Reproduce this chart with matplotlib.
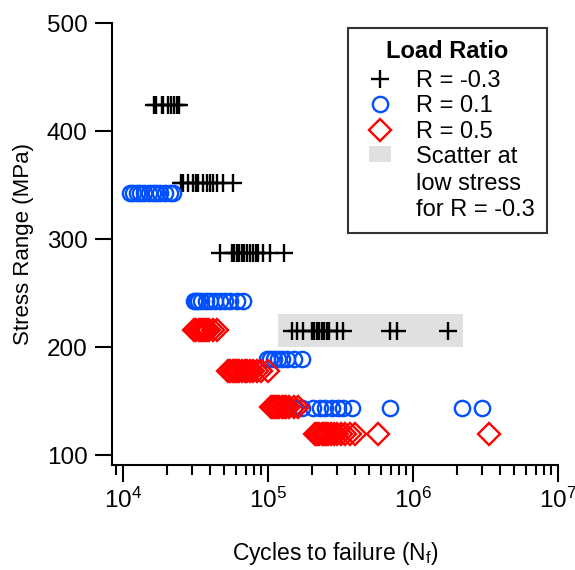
import matplotlib
matplotlib.use("Agg")
import matplotlib.pyplot as plt
from matplotlib.lines import Line2D

plt.rcParams['font.family'] = ['Liberation Sans', 'DejaVu Sans']
plt.rcParams['mathtext.fontset'] = 'custom'
plt.rcParams['mathtext.rm'] = 'Liberation Sans'
plt.rcParams['mathtext.it'] = 'Liberation Sans:italic'

# R = -0.3 : cycles to failure at each stress range (MPa)
rm03_s424 = [16400, 16800, 18500, 19000, 20500, 21300, 22500, 23400, 24400]
rm03_s352 = [25000, 26100, 28200, 30200, 31800, 33000, 35500, 37800, 39800,
             42000, 44300, 49200, 57100]
rm03_s287 = [46700, 56200, 58300, 60900, 63100, 65900, 68300, 71900, 75100,
             79200, 82600, 85700, 92800, 103000, 129000]
rm03_s215 = [145500, 157600, 175200, 200000, 207400, 216500, 224700, 234700,
             243000, 254000, 264800, 297700, 329000, 693000, 776000, 1750000]

# R = 0.1
r01_s343 = [11200, 11800, 12500, 13000, 14000, 15000, 16000, 17000, 18000,
            19500, 21000, 22100]
r01_s243 = [31100, 31800, 32900, 34500, 37400, 39800, 43100, 46700, 50500,
            54700, 61100, 67300]
r01_s189 = [98000, 103000, 110000, 118000, 125000, 135000, 150000, 172000]
r01_s144 = [130000, 150000, 170600, 205000, 228600, 247500, 274800, 305400,
            331000, 377600, 694000, 2170000, 2980000]

# R = 0.5
r05_s216 = [30900, 32000, 33500, 34500, 35500, 36500, 38000, 39500, 41500, 44500]
r05_s178 = [53200, 55000, 57000, 59000, 61000, 63000, 66000, 69000, 72000,
            75000, 79000, 84000, 90000, 99700]
r05_s145 = [105700, 108000, 111000, 114000, 117000, 120000, 124000, 128000,
            133000, 140000, 150000, 162000]
r05_s120 = [210000, 218000, 226000, 234000, 242000, 250000, 260000, 272000,
            285000, 300000, 318000, 340000, 365000, 399000, 577000, 3360000]

series = {
    "R = -0.3": {424: rm03_s424, 352: rm03_s352, 287: rm03_s287, 215: rm03_s215},
    "R = 0.1": {343: r01_s343, 243: r01_s243, 189: r01_s189, 144: r01_s144},
    "R = 0.5": {216: r05_s216, 178: r05_s178, 145: r05_s145, 120: r05_s120},
}

# scatter band at low stress for R = -0.3
band_n = [117000, 2210000]
band_lo = 200
band_hi = 231

black = "black"
blue = "#0050ff"
red = "#ff0000"
grey = "#e0e0e0"
styles = {
    "R = -0.3": dict(marker="+", color=black, ms=13, mew=1.7),
    "R = 0.1": dict(marker="o", color=blue, ms=11, mew=1.7, mfc="none"),
    "R = 0.5": dict(marker="D", color=red, ms=11, mew=1.7, mfc="none"),
}

fig = plt.figure(figsize=(5.75, 5.70), dpi=100)
ax = fig.add_axes([0.1948, 0.1842, 0.7756, 0.7754])

ax.fill_between(band_n, band_lo, band_hi, color=grey, lw=0, zorder=0)

for name, levels in series.items():
    for stress, cycles in levels.items():
        ax.plot(cycles, [stress] * len(cycles), ls="none", **styles[name])

ax.set_xscale("log")
ax.set_xlim(8400, 1e7)
ax.set_ylim(91, 500)
ax.set_yticks([100, 200, 300, 400, 500])

for s in ["top", "right"]:
    ax.spines[s].set_visible(False)
for s in ["left", "bottom"]:
    ax.spines[s].set_linewidth(1.5)

ax.tick_params(axis="both", which="major", direction="out", length=12.5,
               width=1.5, labelsize=17.5, color="black")
ax.tick_params(axis="x", which="major", pad=4)
ax.tick_params(axis="y", which="major", pad=5)
ax.tick_params(axis="x", which="minor", direction="out", length=7.2, width=1.5)
ax.tick_params(axis="y", which="minor", length=0)

ax.set_xlabel("Cycles to failure (N$_\\mathregular{f}$)", fontsize=16.5, labelpad=19)
ax.set_ylabel("Stress Range (MPa)", fontsize=16, labelpad=9)

# grey patch handle, shifted up so it sits beside the first label line
patch_box = [(-11, 22), (11, 22), (11, 38), (-11, 38)]
handles = [
    Line2D([], [], ls="none", **styles["R = -0.3"]),
    Line2D([], [], ls="none", **styles["R = 0.1"]),
    Line2D([], [], ls="none", **styles["R = 0.5"]),
    Line2D([], [], ls="none", marker=patch_box, color=grey, ms=54.7, mew=0),
]
labels = ["R = -0.3", "R = 0.1", "R = 0.5", "Scatter at\nlow stress\nfor R = -0.3"]
leg = ax.legend(handles, labels, title="Load Ratio", loc="upper left",
                bbox_to_anchor=(0.529, 0.989), fontsize=17,
                title_fontproperties={"weight": "bold", "size": 17},
                frameon=True, fancybox=False, edgecolor="black",
                handlelength=1.7, handletextpad=0.7, borderpad=0.5,
                labelspacing=0.14, borderaxespad=0)
leg.get_frame().set_linewidth(1.5)
leg._legend_box.sep = 0.14 * 17 + 3
for t in leg.get_texts():
    t.set_linespacing(1.26)

fig.savefig("out.png", dpi=100)
